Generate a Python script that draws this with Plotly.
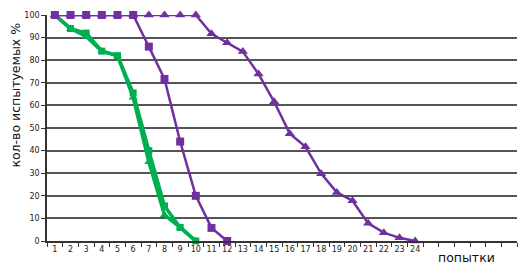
import plotly.graph_objects as go

attempts = list(range(1, 25))
tick_labels = [str(i) for i in attempts]

green_sq_x = list(range(1, 11))
green_sq = [100, 94, 92, 84, 82, 65.5, 40, 15.5, 6, 0]
green_tri_x = list(range(1, 11))
green_tri = [100, 94, 90.5, 84, 82, 63.5, 35, 11.5, 6, 0]
purple_sq_x = list(range(1, 13))
purple_sq = [100, 100, 100, 100, 100, 100, 86, 71.7, 44, 20, 5.8, 0]
purple_tri_x = list(range(1, 25))
purple_tri = [100, 100, 100, 100, 100, 100, 100, 100, 100, 100,
              91.7, 87.7, 83.8, 73.9, 61.6, 47.5, 41.7, 29.8, 21.5, 17.8,
              7.8, 3.7, 1.4, 0]

GREEN = "#00B050"
PURPLE = "#7030A0"

fig = go.Figure()
fig.add_trace(go.Scatter(x=green_tri_x, y=green_tri, mode="lines+markers",
                         line=dict(color=GREEN, width=3.5),
                         marker=dict(symbol="triangle-up", size=8, color=GREEN),
                         cliponaxis=False, showlegend=False))
fig.add_trace(go.Scatter(x=green_sq_x, y=green_sq, mode="lines+markers",
                         line=dict(color=GREEN, width=3.5),
                         marker=dict(symbol="square", size=7, color=GREEN),
                         cliponaxis=False, showlegend=False))
fig.add_trace(go.Scatter(x=purple_tri_x, y=purple_tri, mode="lines+markers",
                         line=dict(color=PURPLE, width=2.5),
                         marker=dict(symbol="triangle-up", size=9, color=PURPLE),
                         cliponaxis=False, showlegend=False))
fig.add_trace(go.Scatter(x=purple_sq_x, y=purple_sq, mode="lines+markers",
                         line=dict(color=PURPLE, width=2.5),
                         marker=dict(symbol="square", size=8, color=PURPLE),
                         cliponaxis=False, showlegend=False))

fig.update_layout(
    width=530, height=270,
    margin=dict(l=47, r=13, t=11, b=29),
    paper_bgcolor="white", plot_bgcolor="white",
    font=dict(family="DejaVu Sans, sans-serif", color="#222"),
    xaxis=dict(range=[0.5, 30.5], tickmode="array", tickvals=attempts,
               ticktext=tick_labels, ticks="", showgrid=False, zeroline=False,
               showline=True, linecolor="#333", linewidth=1.5,
               tickfont=dict(size=8, color="#222"),
               minor=dict(tick0=0.5, dtick=1, ticks="outside", ticklen=4,
                          tickcolor="#333", showgrid=False)),
    yaxis=dict(range=[0, 100], dtick=10, ticks="outside", ticklen=4,
               tickcolor="#333", showgrid=True, gridcolor="#555",
               gridwidth=1.5, zeroline=False, showline=True,
               linecolor="#333", linewidth=1.5,
               tickfont=dict(size=8, color="#222")),
    annotations=[
        dict(text="кол-во испытуемых %", xref="paper", yref="paper",
             x=-47/470, y=(241-93)/230, xanchor="center", yanchor="middle",
             textangle=-90, showarrow=False,
             font=dict(family="DejaVu Sans, sans-serif", size=12.5, color="#111"),
             xshift=16),
        dict(text="попытки", xref="paper", yref="paper",
             x=(466-47)/470, y=-17/230, xanchor="center", yanchor="middle",
             showarrow=False,
             font=dict(family="DejaVu Sans, sans-serif", size=12.5, color="#111")),
    ],
)

fig.write_html("out.html")
